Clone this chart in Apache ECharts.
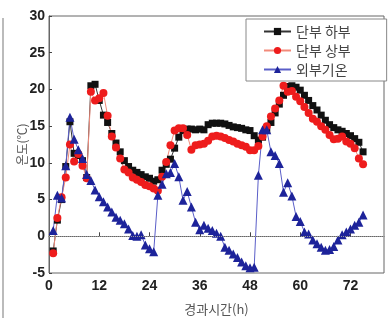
<!DOCTYPE html>
<html>
<head>
<meta charset="utf-8">
<script src="https://cdn.jsdelivr.net/npm/echarts@6/dist/echarts.min.js"></script>
<style>
  html, body { margin: 0; padding: 0; background: #fff; }
  #chart { width: 391px; height: 321px; }
</style>
</head>
<body>
<div id="chart"></div>
<script>
// hours 1..75
const hours = [];
for (let h = 1; h <= 75; h += 1) hours.push(h);

const lowerEdge = [
  -2.0, 2.2, 5.0, 9.5, 15.6, 11.3, 11.0, 10.3, 8.0, 20.5,
  20.7, 18.5, 16.5, 15.5, 14.0, 12.7, 11.5, 10.3, 9.5, 9.0,
  8.7, 8.4, 8.1, 7.9, 7.5, 7.7, 9.0, 9.8, 10.5, 12.0,
  13.5, 14.4, 14.6, 14.6, 14.5, 14.6, 14.5, 15.2, 15.4, 15.4,
  15.4, 15.3, 15.1, 14.9, 14.8, 14.7, 14.5, 14.4, 13.7, 13.1,
  13.5, 14.5, 15.5, 16.8, 18.0, 19.2, 20.4, 20.5, 20.3, 19.9,
  19.2, 18.5, 17.8, 17.2, 16.5, 15.8, 15.2, 14.8, 14.5, 14.3,
  14.0, 13.7, 13.3, 12.8, 11.5
];

const upperEdge = [
  -2.3, 2.5, 5.3, 8.0, 12.5, 10.2, 11.2, 9.6, 7.9, 19.7,
  18.5, 18.8, 19.5, 16.4, 13.6, 12.1, 10.6, 9.1, 8.7, 8.0,
  7.7, 7.4, 7.0, 6.8, 6.5, 6.2, 8.1, 10.1, 12.4, 14.4,
  14.7, 14.7, 13.8, 11.8, 12.4, 12.5, 12.6, 13.0, 13.6, 13.7,
  13.6, 13.4, 13.1, 12.9, 12.6, 12.4, 12.2, 11.7, 11.7, 12.3,
  13.6, 15.0, 16.3, 17.4, 18.5, 20.5, 19.7, 19.8, 19.0, 18.4,
  17.6, 16.8, 16.0, 15.6, 15.0, 14.5, 13.8, 13.2, 13.3, 13.6,
  12.9, 12.6, 12.0, 10.6, 9.8
];

const outdoor = [
  0.8, 5.6, 5.2, 9.6, 16.2, 13.2, 11.8, 10.6, 8.4, 7.6,
  6.3, 5.4, 4.7, 4.0, 3.3, 2.6, 2.2, 1.7, 1.0, 0.1,
  0.0, 0.2, -1.2, -1.7, -2.1, 5.6, 7.1, 8.5, 8.7, 9.9,
  8.1, 4.9, 6.1, 4.0, 1.9, 0.9, 1.5, 1.1, 0.8, 0.4,
  0.0, -1.5, -1.9, -2.4, -2.9, -3.5, -4.0, -4.3, -4.2, 8.3,
  14.5, 14.5, 11.5, 11.0, 9.9, 6.0, 7.3, 5.5, 2.7, 2.0,
  0.6, 0.3, -0.5, -1.0, -1.5, -1.9, -1.8, -1.4, -0.5, 0.2,
  0.6, 1.0, 1.5, 1.9, 2.9
];

const seriesNames = ['단부 하부', '단부 상부', '외부기온'];
const xTicks = [0, 12, 24, 36, 48, 60, 72];

const pairs = (vals) => hours.map((h, i) => [h, vals[i]]);

const chart = echarts.init(document.getElementById('chart'));

const labelStyle = {
  color: '#222',
  fontSize: 14,
  fontWeight: 'bold',
  fontFamily: 'Liberation Sans Narrow, Liberation Sans, Arial, sans-serif'
};

chart.setOption({
  animation: false,
  grid: {
    left: 49,
    right: 7,
    top: 16,
    bottom: 48,
    show: true,
    borderColor: '#666',
    borderWidth: 1
  },
  legend: {
    data: seriesNames,
    orient: 'vertical',
    left: 246,
    top: 19,
    padding: [5, 36, 4, 17],
    itemGap: 4,
    itemWidth: 27,
    itemHeight: 9,
    backgroundColor: '#fff',
    borderColor: '#888',
    borderWidth: 1,
    textStyle: {
      color: '#444',
      fontSize: 14,
      lineHeight: 15,
      fontFamily: 'Noto Sans CJK KR, sans-serif'
    }
  },
  xAxis: {
    type: 'value',
    min: 0,
    max: 80,
    interval: 12,
    name: '경과시간(h)',
    nameLocation: 'middle',
    nameGap: 30,
    nameMoveOverlap: false,
    nameTextStyle: {
      color: '#555',
      fontSize: 13,
      fontFamily: 'Noto Sans CJK KR, sans-serif'
    },
    axisLine: { lineStyle: { color: '#666' } },
    axisTick: { inside: true, length: 4, lineStyle: { color: '#444' } },
    axisLabel: Object.assign({
      margin: 6,
      showMaxLabel: false,
      formatter: (v) => (xTicks.indexOf(v) >= 0 ? String(v) : '')
    }, labelStyle),
    splitLine: { show: false }
  },
  yAxis: {
    type: 'value',
    min: -5,
    max: 30,
    interval: 5,
    name: '온도(℃)',
    nameLocation: 'middle',
    nameGap: 21,
    nameRotate: 90,
    nameMoveOverlap: false,
    nameTextStyle: {
      color: '#555',
      fontSize: 12,
      fontFamily: 'Noto Sans CJK KR, sans-serif'
    },
    axisLine: { show: true, lineStyle: { color: '#666' } },
    axisTick: { show: true, inside: true, length: 3, lineStyle: { color: '#444' } },
    axisLabel: Object.assign({ margin: 4 }, labelStyle),
    splitLine: { show: false }
  },
  series: [
    {
      name: seriesNames[0],
      type: 'line',
      data: pairs(lowerEdge),
      symbol: 'rect',
      symbolSize: 7,
      itemStyle: { color: '#111' },
      lineStyle: { color: '#333', width: 1 },
      markLine: {
        silent: true,
        symbol: 'none',
        label: { show: false },
        lineStyle: { color: '#999', type: 'dotted', width: 1 },
        data: [{ yAxis: 0 }]
      }
    },
    {
      name: seriesNames[1],
      type: 'line',
      data: pairs(upperEdge),
      symbol: 'circle',
      symbolSize: 8,
      itemStyle: { color: '#ee1c1c' },
      lineStyle: { color: '#f28a7a', width: 1 }
    },
    {
      name: seriesNames[2],
      type: 'line',
      data: pairs(outdoor),
      symbol: 'triangle',
      symbolSize: 9,
      itemStyle: { color: '#1d239a' },
      lineStyle: { color: '#5a5ec8', width: 1 }
    }
  ],
  graphic: [
    {
      type: 'line',
      shape: { x1: 3, y1: 18, x2: 3, y2: 318 },
      style: { stroke: '#bbb', lineWidth: 2 }
    }
  ]
});
</script>
</body>
</html>
